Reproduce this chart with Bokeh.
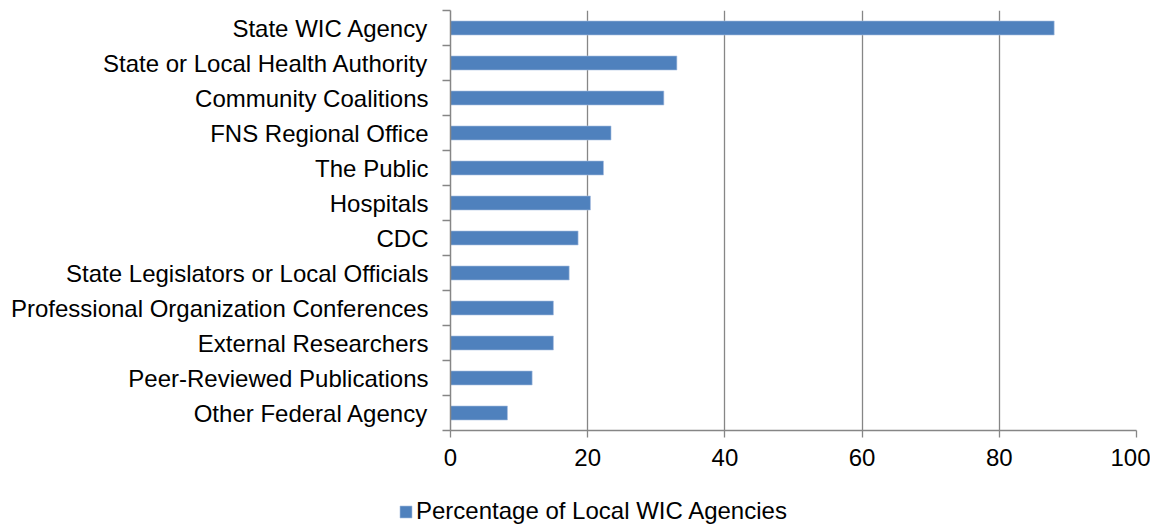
from bokeh.plotting import figure
from bokeh.layouts import column, row
from bokeh.models import FixedTicker, Legend, LegendItem, Range1d, ColumnDataSource
from bokeh.embed import file_html
from bokeh.resources import INLINE

categories = [
    "State WIC Agency",
    "State or Local Health Authority",
    "Community Coalitions",
    "FNS Regional Office",
    "The Public",
    "Hospitals",
    "CDC",
    "State Legislators or Local Officials",
    "Professional Organization Conferences",
    "External Researchers",
    "Peer-Reviewed Publications",
    "Other Federal Agency",
]
values = [88.0, 33.0, 31.1, 23.4, 22.3, 20.4, 18.6, 17.3, 15.0, 15.0, 11.9, 8.3]
x_ticks = [0, 20, 40, 60, 80, 100]
series_name = "Percentage of Local WIC Agencies"

n = len(categories)
ypos = [n - i - 0.5 for i in range(n)]
src = ColumnDataSource(dict(y=ypos, right=values, name=categories))

FONT = "Liberation Sans"
FS = "24px"
GRAY = "#868686"
BAR = "#4F81BD"
EDGE = "#A9C0E0"

p = figure(width=1150, height=480, output_backend="svg", toolbar_location=None,
           x_range=Range1d(0, 100), y_range=Range1d(0, n),
           min_border_left=450, min_border_right=14, min_border_top=10, min_border_bottom=50)
p.outline_line_color = None
p.background_fill_color = "white"
p.border_fill_color = "white"

r = p.hbar(y="y", left=0, right="right", height=0.4, source=src,
           fill_color=BAR, line_color=EDGE, line_width=0.6)

# grid
p.ygrid.grid_line_color = None
p.xgrid.ticker = FixedTicker(ticks=x_ticks[1:])
p.xgrid.grid_line_color = GRAY
p.xgrid.grid_line_width = 1.3

# x axis
xa = p.xaxis[0]
xa.ticker = FixedTicker(ticks=x_ticks)
xa.axis_line_color = GRAY
xa.axis_line_width = 1.5
xa.major_tick_line_color = GRAY
xa.major_tick_line_width = 1.3
xa.major_tick_out = 7
xa.major_tick_in = 0
xa.minor_tick_line_color = None
xa.major_label_text_font = FONT
xa.major_label_text_font_size = FS
xa.major_label_text_color = "black"
xa.major_label_standoff = 11

# y axis
ya = p.yaxis[0]
ya.ticker = FixedTicker(ticks=ypos, minor_ticks=list(range(n + 1)))
ya.major_label_overrides = {y: c for y, c in zip(ypos, categories)}
ya.axis_line_color = GRAY
ya.axis_line_width = 1.5
ya.major_tick_line_color = None
ya.major_tick_out = 0
ya.major_tick_in = 0
ya.minor_tick_line_color = GRAY
ya.minor_tick_line_width = 1.3
ya.minor_tick_out = 8
ya.minor_tick_in = 0
ya.major_label_text_font = FONT
ya.major_label_text_font_size = FS
ya.major_label_text_color = "black"
ya.major_label_standoff = 14

# legend figure below the chart
lf = figure(width=1150, height=45, output_backend="svg", toolbar_location=None,
            x_range=Range1d(0, 1), y_range=Range1d(0, 1),
            x_axis_type=None, y_axis_type=None,
            min_border_left=0, min_border_right=0, min_border_top=0, min_border_bottom=0)
lf.outline_line_color = None
lf.xgrid.visible = False
lf.ygrid.visible = False
dummy = lf.hbar(y=[-5], left=0, right=[1], height=0.4,
                fill_color=BAR, line_color=EDGE, line_width=0.6)

legend = Legend(items=[LegendItem(label=series_name, renderers=[dummy])],
                location=(398, 0), orientation="horizontal",
                glyph_width=15, glyph_height=15, label_standoff=3,
                label_height=24,
                label_text_font=FONT, label_text_font_size=FS,
                label_text_color="black", padding=2, margin=0,
                border_line_color=None, background_fill_alpha=0)
lf.add_layout(legend, "center")

layout = column(p, row(lf), spacing=0)
open("out.html", "w").write(file_html(layout, INLINE))
